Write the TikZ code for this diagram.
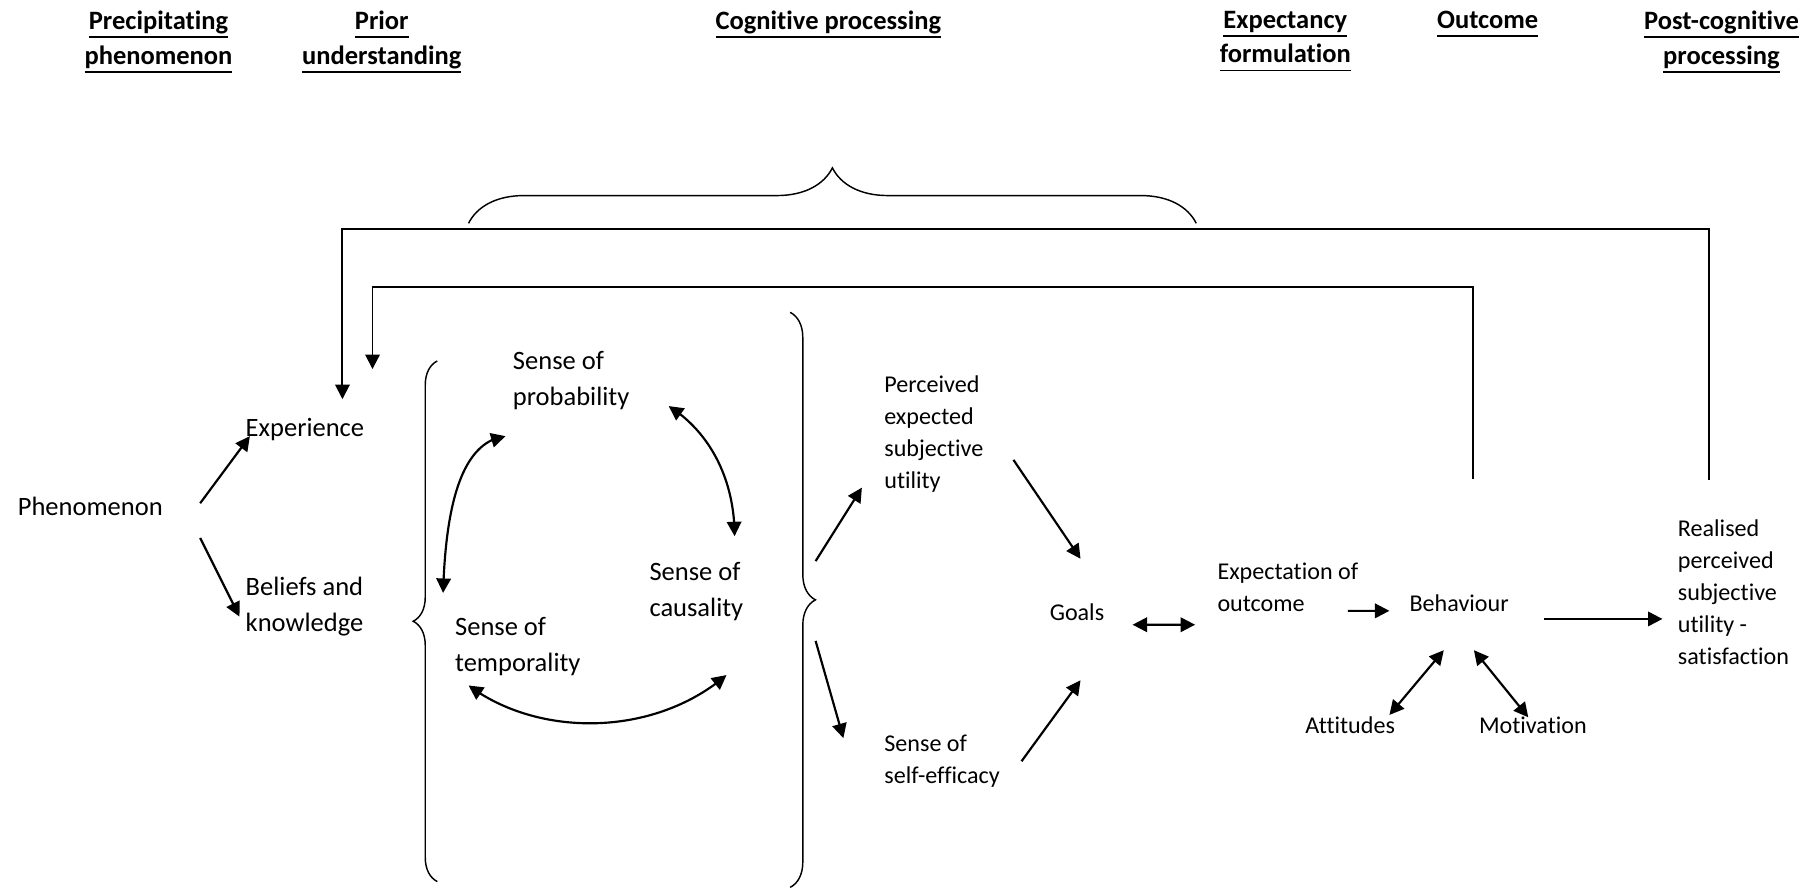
\documentclass[tikz,border=0pt]{standalone}
\usepackage{fontspec}
\setmainfont{Carlito}[Ligatures={NoCommon}]
\usepackage{tikz}
\usetikzlibrary{arrows.meta}
\usetikzlibrary{bending}
\usetikzlibrary{decorations.pathreplacing}

\newcommand\ulhead[1]{\setbox0\hbox{#1}\rlap{\rule[-3.6pt]{\wd0}{0.8pt}}\box0}

\tikzset{
  head/.style={font=\fontsize{11}{14.4}\selectfont\bfseries, align=center, anchor=north, inner sep=0pt},
  txt/.style={font=\fontsize{11}{14.9}\selectfont, align=left, anchor=west, inner sep=0pt},
  txtsmall/.style={font=\fontsize{10}{13.3}\selectfont, align=left, anchor=west, inner sep=0pt},
  arr/.style={line width=0.9pt, -{Triangle[length=6pt,width=6pt]}},
  darr/.style={line width=0.9pt, {Triangle[length=6pt,width=6pt]}-{Triangle[length=6pt,width=6pt]}},
  fb/.style={line width=0.8pt, -{Triangle[length=6pt,width=6pt]}},
  brc/.style={line width=0.6pt, decorate, decoration={brace, amplitude=#1}},
}

\begin{document}
\begin{tikzpicture}[x=0.48pt, y=-0.48pt]
\useasboundingbox (0,0) rectangle (1568,768);
% headings
\node[head] (h_precip)  at (137,9)  {\ulhead{Precipitating}\\\ulhead{phenomenon}};
\node[head] (h_prior)   at (330,9)  {\ulhead{Prior}\\\ulhead{understanding}};
\node[head] (h_cog)     at (716,9)  {\ulhead{Cognitive processing}};
\node[head] (h_expect)  at (1111,9) {\ulhead{Expectancy}\\\ulhead{formulation}};
\node[head] (h_outcome) at (1286,9) {\ulhead{Outcome}};
\node[head] (h_post)    at (1488,9) {\ulhead{Post-cognitive}\\\ulhead{processing}};
% labels
\node[txt] (phen)   at (15,438)    {Phenomenon};
\node[txt] (exper)  at (212,371)   {Experience};
\node[txt] (belief) at (212,524.5) {Beliefs and\\knowledge};
\node[txt] (s_prob) at (443,329)   {Sense of\\probability};
\node[txt] (s_caus) at (561,511)   {Sense of\\causality};
\node[txt] (s_temp) at (393,559)   {Sense of\\temporality};
\node[txtsmall] (pesu)     at (764,375)    {Perceived\\expected\\subjective\\utility};
\node[txtsmall] (s_eff)    at (764,658)    {Sense of\\self-efficacy};
\node[txtsmall] (goals)    at (907,529)    {Goals};
\node[txtsmall] (exp_out)  at (1052,507.5) {Expectation of\\outcome};
\node[txtsmall] (behav)    at (1218,521)   {Behaviour};
\node[txtsmall] (attit)    at (1128,627)   {Attitudes};
\node[txtsmall] (motiv)    at (1278,627)   {Motivation};
\node[txtsmall] (realised) at (1450,512)   {Realised\\perceived\\subjective\\utility -\\satisfaction};
% braces
\draw[brc=10pt]   (378,762) -- (378,312);
\draw[brc=10.5pt] (683,270) -- (683,767);
\draw[brc=23pt]   (405,193) -- (1034,193);
\coordinate (cog_out) at (705,520);
% feedback loops
\draw[fb] ([shift={(27,-97)}]realised.west) |- ([shift={(84,-173)}]exper.west) -- ([shift={(84,-26)}]exper.west);
\draw[fb] ([shift={(55,-107)}]behav.west) |- ([shift={(110,-123)}]exper.west) -- ([shift={(110,-52)}]exper.west);
% arrows
\draw[arr] ([shift={(158,-3)}]phen.west) -- ([shift={(4,6)}]exper.west);
\draw[arr] ([shift={(158,27)}]phen.west) -- ([shift={(-5,8.5)}]belief.west);
\draw[darr] ([shift={(-6,48)}]s_prob.west) .. controls +(-40,5) and +(2,-70) .. ([shift={(-10,-46.5)}]s_temp.west);
\draw[darr] ([shift={(135,22)}]s_prob.west) .. controls +(35,22) and +(0,-50) .. ([shift={(74,-47.5)}]s_caus.west);
\draw[darr] ([shift={(12,33.5)}]s_temp.west) .. controls +(60,45) and +(-63,54) .. ([shift={(67,72.5)}]s_caus.west);
\draw[arr] ([shift={(0,-35)}]cog_out) -- ([shift={(-19,46.5)}]pesu.west);
\draw[arr] ([shift={(0,34)}]cog_out) -- ([shift={(-35,-20)}]s_eff.west);
\draw[arr] ([shift={(112,22.5)}]pesu.west) -- ([shift={(27,-46)}]goals.west);
\draw[arr] ([shift={(119,0)}]s_eff.west) -- ([shift={(27,59)}]goals.west);
\draw[darr] ([shift={(72,11)}]goals.west) -- ([shift={(-19,32.5)}]exp_out.west);
\draw[arr] ([shift={(113,20.5)}]exp_out.west) -- ([shift={(-17,7)}]behav.west);
\draw[arr] ([shift={(117,14)}]behav.west) -- ([shift={(-13,23)}]realised.west);
\draw[darr] ([shift={(73,-9)}]attit.west) -- ([shift={(30,41)}]behav.west);
\draw[darr] ([shift={(56,41)}]behav.west) -- ([shift={(43,-7)}]motiv.west);
\end{tikzpicture}
\end{document}
